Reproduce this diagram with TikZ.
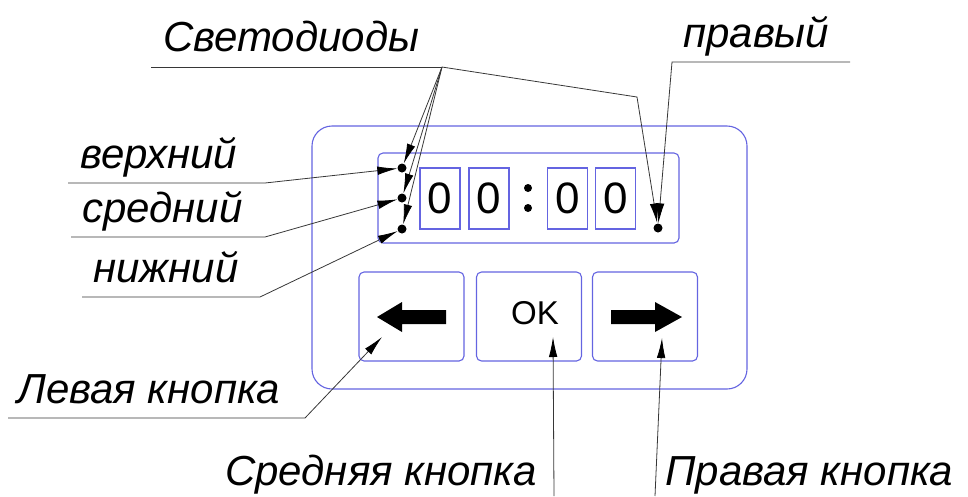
\documentclass[tikz,border=0pt]{standalone}
\usepackage{fontspec}
\setmainfont{Liberation Sans}
\usetikzlibrary{arrows.meta}
\definecolor{panelblue}{RGB}{100,100,225}
\definecolor{leadgray}{RGB}{55,55,55}

\begin{document}
\begin{tikzpicture}[x=1pt, y=-1pt,
    panel/.style={draw=panelblue, line width=1.1pt},
    lbl/.style={anchor=base west, inner sep=0pt, font=\fontsize{42}{42}\selectfont\itshape},
    lead/.style={draw=leadgray, line width=0.8pt},
    ptr/.style={lead, -{Latex[length=20pt,width=8.5pt,black]}},
    led/.style={circle, fill=black, inner sep=0pt, minimum size=9pt},
    digit/.style={panel, inner sep=0pt, minimum width=40pt, minimum height=61pt, font=\fontsize{44}{44}\selectfont},
    button/.style={panel, rounded corners=5pt, inner sep=0pt, minimum width=105pt, minimum height=89pt}]
    \useasboundingbox (0,0) rectangle (968,496);

    % front panel and display
    \draw[panel, rounded corners=20pt] (312,126) rectangle (747,389);
    \draw[panel, rounded corners=5pt] (378,153) rectangle (679,243);
    \node[digit] (dig1) at (440,198.5) {0};
    \node[digit] (dig2) at (489,198.5) {0};
    \node[digit] (dig3) at (567.5,198.5) {0};
    \node[digit] (dig4) at (615.5,198.5) {0};
    \fill (528,188) circle (4pt);
    \fill (528,208) circle (4pt);

    % leds
    \node[led] (ledT) at (402,168) {};
    \node[led] (ledM) at (402,198) {};
    \node[led] (ledB) at (402,229) {};
    \node[led] (ledR) at (658,228) {};

    % buttons
    \node[button] (btnL) at (411.5,316.5) {};
    \node[button] (btnM) at (529,316.5) {};
    \node[button] (btnR) at (645,316.5) {};
    \fill (377,317) -- (402,302) -- (402,310) -- (446,310) -- (446,324) -- (402,324) -- (402,332) -- cycle;
    \fill (682,317) -- (655,302) -- (655,310) -- (611,310) -- (611,324) -- (655,324) -- (655,332) -- cycle;
    \node[font=\fontsize{33}{33}\selectfont] (ok) at (535,313) {OK};

    % labels
    \node[lbl] (svet) at (163,51) {Светодиоды};
    \node[lbl] (right) at (683,47) {правый};
    \node[lbl] (top) at (80,168) {верхний};
    \node[lbl] (mid) at (82,222) {средний};
    \node[lbl] (low) at (93,282) {нижний};
    \node[lbl] (btnLtxt) at (17,403) {Левая кнопка};
    \node[lbl] (btnMtxt) at (225,485) {Средняя кнопка};
    \node[lbl] (btnRtxt) at (665,485) {Правая кнопка};

    % leader lines
    \coordinate (svetL) at (151,67);
    \coordinate (svetR) at (442,67);
    \coordinate (svetK) at (637,97);
    \draw[lead] (svetL) -- (svetR);
    \foreach \l in {ledT,ledM,ledB}
        \draw[ptr] (svetR) -- (\l);
    \draw[ptr] (svetR) -- (svetK) -- (ledR);

    \coordinate (rightR) at (850,62);
    \coordinate (rightL) at (672,62);
    \draw[ptr] (rightR) -- (rightL) -- (ledR);

    \coordinate (topL) at (68,183);
    \coordinate (topR) at (265,183);
    \draw[ptr] (topL) -- (topR) -- (ledT);
    \coordinate (midL) at (71,237);
    \coordinate (midR) at (265,237);
    \draw[ptr] (midL) -- (midR) -- (ledM);
    \coordinate (lowL) at (82,297);
    \coordinate (lowR) at (260,297);
    \draw[ptr] (lowL) -- (lowR) -- (ledB);

    \coordinate (levL) at (8,418);
    \coordinate (levR) at (305,418);
    \coordinate (levTip) at (382,337);
    \draw[ptr] (levL) -- (levR) -- (levTip);

    \coordinate (midFoot) at (554,496);
    \coordinate (midTip) at (553,337);
    \draw[ptr] (midFoot) -- (midTip);
    \coordinate (rgtFoot) at (655,496);
    \coordinate (rgtTip) at (662,338);
    \draw[ptr] (rgtFoot) -- (rgtTip);
\end{tikzpicture}
\end{document}
